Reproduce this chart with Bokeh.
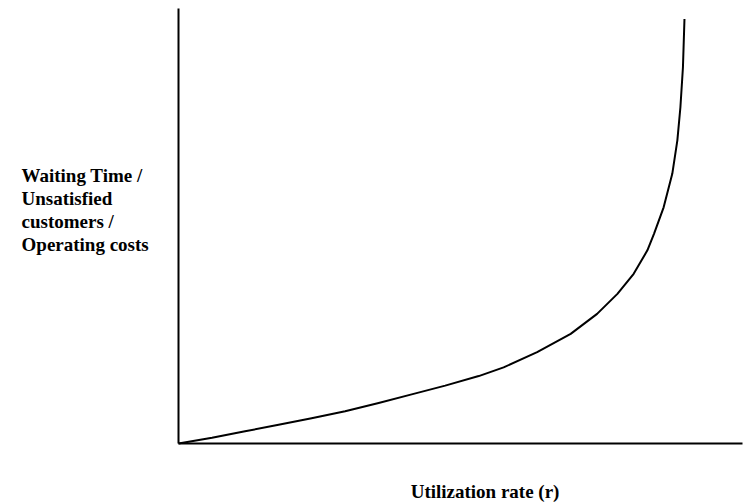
from bokeh.plotting import figure
from bokeh.models import Range1d, Label
from bokeh.embed import file_html
from bokeh.resources import INLINE

# Utilization rate (fraction of capacity) and relative waiting time
utilization = [0.0, 0.066, 0.131, 0.197, 0.262, 0.328, 0.394, 0.459, 0.525, 0.591,
               0.640, 0.706, 0.772, 0.824, 0.864, 0.896, 0.923, 0.936, 0.955, 0.972,
               0.982, 0.988, 0.993, 0.996]
waiting = [0.0, 0.13, 0.28, 0.43, 0.58, 0.74, 0.93, 1.13, 1.33, 1.55,
           1.75, 2.10, 2.52, 2.98, 3.44, 3.90, 4.44, 4.82, 5.43, 6.20,
           6.97, 7.73, 8.65, 9.76]

x_label = "Utilization rate (r)"
y_label = "Waiting Time /\nUnsatisfied\ncustomers /\nOperating costs"

X_AXIS_END = 1.1102
Y_AXIS_END = 10.0

FONT = "Liberation Serif"

p = figure(width=743, height=502, output_backend="svg", toolbar_location=None,
           x_range=Range1d(-0.3504, 1.1122), y_range=Range1d(-1.3563, 10.1839),
           min_border=0)
p.outline_line_color = None
p.grid.visible = False
p.background_fill_color = "white"
p.border_fill_color = "white"

for ax in (p.xaxis, p.yaxis):
    ax.fixed_location = 0
    ax.axis_line_width = 2
    ax.axis_line_color = "black"
    ax.major_tick_line_color = None
    ax.minor_tick_line_color = None
    ax.major_tick_in = 0
    ax.major_tick_out = 0
    ax.minor_tick_in = 0
    ax.minor_tick_out = 0
    ax.major_label_standoff = 0
    ax.major_label_text_font_size = "0px"
    ax.major_label_text_color = None
p.xaxis.bounds = (0, X_AXIS_END)
p.yaxis.bounds = (0, Y_AXIS_END)

p.line(utilization, waiting, line_color="black", line_width=2,
       line_join="round")

p.add_layout(Label(x=0.457, y=-0.851, text=x_label, text_font=FONT,
                   text_font_style="bold", text_font_size="19px",
                   text_align="left", text_baseline="top",
                   text_color="black"))
p.add_layout(Label(x=-0.309, y=6.391, text=y_label, text_font=FONT,
                   text_font_style="bold", text_font_size="19px",
                   text_align="left", text_baseline="top",
                   text_color="black", text_line_height=1.08))

open("out.html", "w").write(file_html(p, INLINE))
